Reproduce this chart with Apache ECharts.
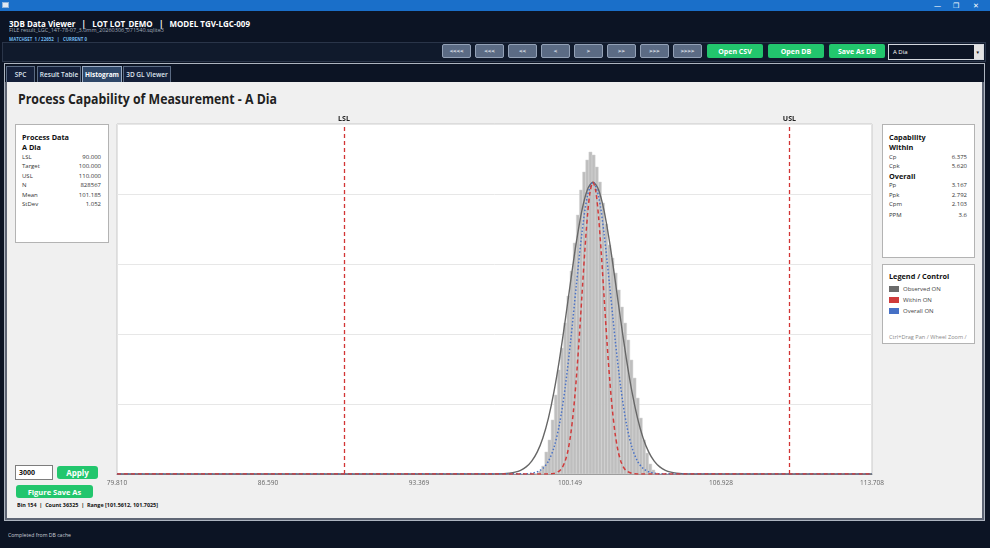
<!DOCTYPE html>
<html>
<head>
<meta charset="utf-8">
<script src="https://cdn.jsdelivr.net/npm/echarts@6/dist/echarts.min.js"></script>
<style>
  html,body{margin:0;padding:0;}
  body{width:990px;height:548px;overflow:hidden;background:#0c1424;position:relative;font-family:'Open Sans','Noto Sans',sans-serif;}
  .a{position:absolute;box-sizing:border-box;}
  .t{position:absolute;white-space:nowrap;line-height:1;}
  .btn{position:absolute;box-sizing:border-box;display:flex;align-items:center;justify-content:center;white-space:nowrap;}
  .nav{top:44px;height:14px;width:29px;background:#5b6b84;border:1px solid #93a1b6;border-radius:2px;color:#e9eef5;font-size:6px;font-weight:700;}
  .grn{background:#22c66d;border-radius:2px;color:#fff;font-weight:700;}
  .tab{top:66px;height:16px;background:#15203a;border:1px solid #5b6b83;border-bottom:none;color:#dfe5ee;font-size:6.5px;font-weight:600;}
  .box{position:absolute;box-sizing:border-box;background:#fff;border:1px solid #b3b3b3;overflow:hidden;}
  .hd{position:absolute;left:6px;font-size:7.3px;font-weight:700;color:#111;white-space:nowrap;line-height:1;}
  .rl{position:absolute;left:6px;font-size:6px;color:#333;white-space:nowrap;line-height:1;}
  .rv{position:absolute;right:7px;font-size:6px;color:#333;white-space:nowrap;line-height:1;text-align:right;}
</style>
</head>
<body>
<!-- title bar -->
<div class="a" style="left:0;top:0;width:990px;height:11px;background:#1a6fc9;"></div>
<div class="a" style="left:2px;top:2px;width:7px;height:6px;background:#dfe8f3;border:1px solid #8fb3da;"></div>
<div class="t" style="left:934px;top:2px;font-size:7px;color:#fff;">&#8212;</div>
<div class="t" style="left:953px;top:2px;font-size:7px;color:#fff;">&#10064;</div>
<div class="t" style="left:973px;top:2px;font-size:7px;color:#fff;">&#10005;</div>

<!-- header -->
<div class="t" data-fit="241" style="left:9px;top:18.5px;font-size:9px;font-weight:700;color:#fff;">3DB Data Viewer&nbsp;&nbsp;&nbsp;|&nbsp;&nbsp;&nbsp;LOT LOT_DEMO&nbsp;&nbsp;&nbsp;|&nbsp;&nbsp;&nbsp;MODEL TGV-LGC-009</div>
<div class="t" data-fit="155" style="left:9px;top:27.5px;font-size:5px;color:#a3adbb;">FILE result_LGC_14T-78-07_3.0mm_20260306_071540.sqlite3</div>
<div class="t" data-fit="78" style="left:9px;top:36.5px;font-size:4.6px;font-weight:700;color:#72bbef;">MATCHSET&nbsp;&nbsp;1 / 22652&nbsp;&nbsp;&nbsp;|&nbsp;&nbsp;&nbsp;CURRENT 0</div>

<!-- toolbar -->
<div class="a" style="left:2px;top:42px;width:984px;height:20px;background:#101a2c;border:1px solid #2a3549;"></div>
<div id="navbtns"></div>
<div class="btn grn" style="left:707px;top:44px;width:56px;height:14px;font-size:7px;">Open CSV</div>
<div class="btn grn" style="left:768px;top:44px;width:56px;height:14px;font-size:7px;">Open DB</div>
<div class="btn grn" style="left:829px;top:44px;width:56px;height:14px;font-size:7px;">Save As DB</div>
<div class="a" style="left:888px;top:44px;width:96px;height:16px;background:#0c1424;border:1px solid #d4d8de;"></div>
<div class="t" style="left:893px;top:49px;font-size:6px;color:#fff;">A Dia</div>
<div class="a" style="left:974px;top:45px;width:9px;height:14px;background:#e2e2e2;"></div>
<div class="t" style="left:975.5px;top:50px;font-size:4.5px;color:#111;">&#9660;</div>

<!-- tab frame -->
<div class="a" style="left:4px;top:63px;width:981px;height:458px;border:1px solid #aeb5c0;"></div>
<div class="btn tab" style="left:6px;width:29px;">SPC</div>
<div class="btn tab" style="left:37px;width:44px;">Result Table</div>
<div class="btn tab" style="left:82px;width:40px;background:#2f4768;border-color:#9aabc4;color:#fff;font-weight:700;">Histogram</div>
<div class="btn tab" style="left:123px;width:48px;">3D GL Viewer</div>

<!-- content panel -->
<div class="a" style="left:5px;top:82px;width:979px;height:438px;background:#f0f0f0;border-left:2px solid #5f6675;border-right:2px solid #5f6675;border-bottom:2px solid #5f6675;"></div>
<div class="t" data-fit="259" style="left:18px;top:91.5px;font-size:14px;font-weight:700;color:#1f1f1f;">Process Capability of Measurement - A Dia</div>

<!-- process data box -->
<div class="box" id="pdBox" style="left:15px;top:124px;width:94px;height:119px;"></div>
<!-- capability box -->
<div class="box" id="capBox" style="left:882px;top:124px;width:93px;height:134px;"></div>
<!-- legend box -->
<div class="box" style="left:882px;top:264px;width:93px;height:80px;">
  <div class="hd" style="top:7.5px;">Legend / Control</div>
  <div class="a" style="left:6px;top:20.5px;width:10px;height:6px;background:#6b6b6b;"></div>
  <div class="rl" style="left:20px;top:20.5px;color:#444;">Observed ON</div>
  <div class="a" style="left:6px;top:31.5px;width:10px;height:6px;background:#cf3b3b;"></div>
  <div class="rl" style="left:20px;top:31.5px;color:#444;">Within ON</div>
  <div class="a" style="left:6px;top:43px;width:10px;height:6px;background:#4671c6;"></div>
  <div class="rl" style="left:20px;top:43px;color:#444;">Overall ON</div>
  <div class="rl" style="left:6px;top:70px;font-size:5.6px;color:#8a8a8a;">Ctrl+Drag Pan / Wheel Zoom /</div>
</div>

<!-- bottom controls -->
<div class="a" style="left:15px;top:465px;width:38px;height:15px;background:#fff;border:1px solid #7d7d7d;"></div>
<div class="t" style="left:19px;top:469px;font-size:7px;font-weight:700;color:#111;">3000</div>
<div class="btn grn" style="left:57px;top:466px;width:41px;height:13px;font-size:8px;border-radius:3px;">Apply</div>
<div class="btn grn" style="left:16px;top:485px;width:77px;height:13px;font-size:7.5px;border-radius:3px;">Figure Save As</div>
<div class="t" data-fit="141" style="left:17px;top:503.3px;font-size:5.5px;font-weight:700;color:#111;">Bin 154&nbsp;&nbsp;|&nbsp;&nbsp;Count 36325&nbsp;&nbsp;|&nbsp;&nbsp;Range [101.5612, 101.7025]</div>

<!-- status bar -->
<div class="t" data-fit="63" style="left:8px;top:532.5px;font-size:5px;color:#c9cfd9;">Completed from DB cache</div>

<!-- chart layer -->
<div id="chart" style="position:absolute;left:0;top:0;width:990px;height:548px;z-index:5;"></div>

<script>
// ---------------- data ----------------
const xMin = 79.810;
const xMax = 113.708;
const xTickLabels = [79.810, 86.590, 93.369, 100.149, 106.928, 113.708];
const totalBins = 240;
const firstBinIndex = 133;
const histCounts = [70, 400, 1070, 2950, 4560, 7240, 10590, 13940, 16880, 20230,
  23850, 27200, 30950, 34700, 38060, 40470, 42080, 43150, 42750, 41140,
  39130, 36325, 33500, 30690, 28940, 26930, 24660, 22380, 20230, 17960,
  15280, 12860, 10180, 7500, 4560, 2810, 1340, 540, 130];
const yMax = 46900;
const specLSL = 90;
const specUSL = 110;

const observedX = [96.68, 97.18, 97.43, 97.68, 97.93, 98.18, 98.43, 98.68, 98.93, 99.18, 99.43, 99.68,
  99.93, 100.18, 100.43, 100.68, 100.93, 101.18, 101.43, 101.68, 101.93, 102.18, 102.43, 102.68,
  102.93, 103.18, 103.43, 103.68, 103.93, 104.18, 104.43, 104.68, 104.93, 105.18, 105.68];
const observedY = [10, 50, 120, 250, 500, 950, 1720, 2960, 4830, 7490, 11030, 15430,
  20500, 25870, 30990, 35270, 38100, 39100, 38100, 35270, 30990, 25870, 20500, 15430,
  11030, 7490, 4830, 2960, 1720, 950, 500, 250, 120, 50, 10];

const overallX = [98.18, 98.43, 98.68, 98.93, 99.18, 99.43, 99.68, 99.93, 100.18, 100.43, 100.68, 100.93,
  101.18, 101.43, 101.68, 101.93, 102.18, 102.43, 102.68, 102.93, 103.18, 103.43, 103.68, 103.93, 104.18];
const overallY = [35, 105, 300, 750, 1720, 3570, 6740, 11540, 17900, 25200, 32160, 37240,
  39100, 37240, 32160, 25200, 17900, 11540, 6740, 3570, 1720, 750, 300, 105, 35];

const withinX = [99.18, 99.43, 99.68, 99.805, 99.93, 100.055, 100.18, 100.305, 100.43, 100.555, 100.68,
  100.805, 100.93, 101.055, 101.18, 101.305, 101.43, 101.555, 101.68, 101.805, 101.93, 102.055,
  102.18, 102.305, 102.43, 102.555, 102.68, 102.93, 103.18];
const withinY = [13, 85, 430, 890, 1720, 3110, 5290, 8470, 12700, 17900, 23700,
  29500, 34500, 37900, 39100, 37900, 34500, 29500, 23700, 17900, 12700, 8470,
  5290, 3110, 1720, 890, 430, 85, 13];

const navLabels = ['<<<<', '<<<', '<<', '<', '>', '>>', '>>>', '>>>>'];
const processLabels = ['LSL', 'Target', 'USL', 'N', 'Mean', 'StDev'];
const processValues = ['90.000', '100.000', '110.000', '828567', '101.185', '1.052'];
const withinLabels = ['Cp', 'Cpk'];
const withinValues = ['6.375', '5.620'];
const overallLabels = ['Pp', 'Ppk', 'Cpm', 'PPM'];
const overallValues = ['3.167', '2.792', '2.103', '3.6'];

// ---------------- UI text ----------------
const navLeft = [442, 475, 508, 541, 574, 607, 640, 673];
const nb = document.getElementById('navbtns');
navLabels.forEach((l, i) => {
  const d = document.createElement('div');
  d.className = 'btn nav';
  d.style.left = navLeft[i] + 'px';
  d.textContent = l;
  nb.appendChild(d);
});
function addEl(parent, cls, top, text) {
  const d = document.createElement('div');
  d.className = cls; d.style.top = top + 'px'; d.textContent = text;
  parent.appendChild(d);
}
const pd = document.getElementById('pdBox');
addEl(pd, 'hd', 8.7, 'Process Data');
addEl(pd, 'hd', 18.7, 'A Dia');
const pdTops = [28.7, 38.3, 48, 57.3, 67, 76.3];
processLabels.forEach((l, i) => { addEl(pd, 'rl', pdTops[i], l); addEl(pd, 'rv', pdTops[i], processValues[i]); });
const cb = document.getElementById('capBox');
addEl(cb, 'hd', 8.7, 'Capability');
addEl(cb, 'hd', 18.7, 'Within');
const wTops = [28.7, 38.3];
withinLabels.forEach((l, i) => { addEl(cb, 'rl', wTops[i], l); addEl(cb, 'rv', wTops[i], withinValues[i]); });
addEl(cb, 'hd', 47.5, 'Overall');
const oTops = [57.3, 67, 76.3, 86.7];
overallLabels.forEach((l, i) => { addEl(cb, 'rl', oTops[i], l); addEl(cb, 'rv', oTops[i], overallValues[i]); });

function fitAll() {
  document.querySelectorAll('[data-fit]').forEach(el => {
    el.style.transform = '';
    const w = el.getBoundingClientRect().width;
    const t = +el.dataset.fit;
    if (w > 0) { el.style.transformOrigin = 'left center'; el.style.transform = 'scaleX(' + (t / w) + ')'; }
  });
}
fitAll();
if (document.fonts && document.fonts.ready) document.fonts.ready.then(fitAll);

// ---------------- chart ----------------
const binW = (xMax - xMin) / totalBins;
const histData = histCounts.map((c, i) => {
  const k = firstBinIndex + i;
  return [xMin + k * binW, xMin + (k + 1) * binW, c];
});
function curve(xs, ys) {
  const pts = [[xMin, 0]];
  xs.forEach((x, i) => pts.push([x, ys[i]]));
  pts.push([xMax, 0]);
  return pts;
}

const chart = echarts.init(document.getElementById('chart'), null, { renderer: 'canvas' });
chart.setOption({
  animation: false,
  backgroundColor: 'transparent',
  textStyle: { fontFamily: 'Open Sans' },
  grid: { left: 117, top: 124, width: 755, height: 350, show: true, backgroundColor: '#ffffff', borderColor: '#c9c9c9', borderWidth: 1 },
  xAxis: {
    type: 'value', min: xMin, max: xMax,
    axisLine: { show: true, lineStyle: { color: '#8c8c8c', width: 1 } },
    axisTick: { show: false },
    splitLine: { show: false },
    axisLabel: {
      customValues: xTickLabels,
      formatter: v => Number(v).toFixed(3),
      fontSize: 6.5, color: '#666', margin: 6, fontFamily: 'Open Sans'
    }
  },
  yAxis: {
    type: 'value', min: 0, max: yMax, interval: yMax / 5,
    axisLine: { show: false }, axisTick: { show: false }, axisLabel: { show: false },
    splitLine: { show: true, lineStyle: { color: '#e7e7e7', width: 1 } }
  },
  series: [
    {
      type: 'custom', name: 'Observed', z: 2,
      encode: { x: [0, 1], y: 2 },
      data: histData,
      renderItem: function (params, api) {
        const p0 = api.coord([api.value(0), api.value(2)]);
        const p1 = api.coord([api.value(1), 0]);
        return {
          type: 'rect',
          shape: { x: p0[0], y: p0[1], width: p1[0] - p0[0], height: p1[1] - p0[1] },
          style: { fill: '#bebebe', stroke: '#d6d6d6', lineWidth: 0.5 }
        };
      }
    },
    {
      type: 'line', name: 'ObservedCurve', z: 4, data: curve(observedX, observedY),
      showSymbol: false, smooth: 0.3, lineStyle: { color: '#676767', width: 1.4 }
    },
    {
      type: 'line', name: 'Overall', z: 5, data: curve(overallX, overallY),
      showSymbol: false, smooth: 0.3, lineStyle: { color: '#4a72c6', width: 1.5, type: [1.5, 2] }
    },
    {
      type: 'line', name: 'Within', z: 6, data: curve(withinX, withinY),
      showSymbol: false, smooth: 0.3, lineStyle: { color: '#d03b3b', width: 1.5, type: [4, 3] }
    },
    {
      type: 'line', name: 'Spec', z: 7, data: [],
      markLine: {
        silent: true, symbol: ['none', 'none'],
        lineStyle: { color: '#d23434', width: 1.3, type: [4, 3] },
        label: { show: true, position: 'end', formatter: '{b}', fontSize: 7, fontWeight: 'bold', color: '#222', distance: 2, fontFamily: 'Open Sans' },
        data: [{ name: 'LSL', xAxis: specLSL }, { name: 'USL', xAxis: specUSL }]
      }
    }
  ]
});
</script>
</body>
</html>
